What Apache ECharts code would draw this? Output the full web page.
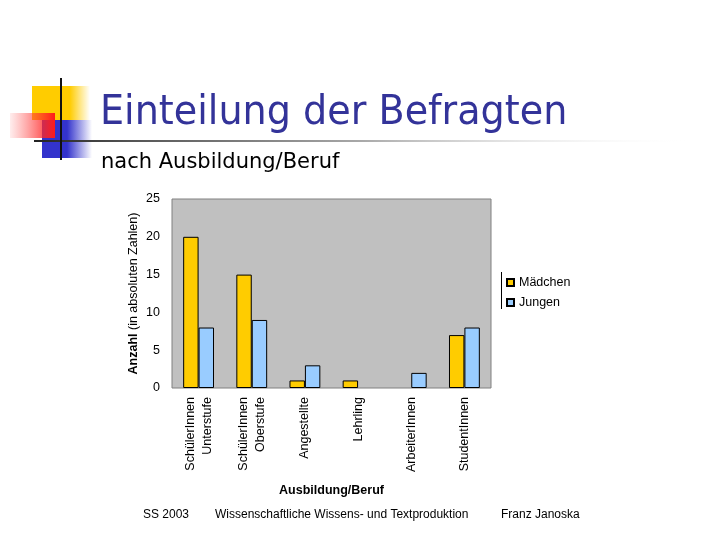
<!DOCTYPE html>
<html>
<head>
<meta charset="utf-8">
<script src="https://cdn.jsdelivr.net/npm/echarts@6/dist/echarts.min.js"></script>
<style>html,body{margin:0;padding:0;background:#fff;}#c{width:720px;height:540px;}</style>
</head>
<body>
<div id="c"></div>
<script>
const categories = ['SchülerInnen\nUnterstufe', 'SchülerInnen\nOberstufe', 'Angestellte', 'Lehrling', 'ArbeiterInnen', 'StudentInnen'];
const maedchen = [20, 15, 1, 1, 0, 7];
const jungen = [8, 9, 3, 0, 2, 8];
const yTicks = { min: 0, max: 25, interval: 5 };

const noZero = arr => arr.map(v => (v === 0 ? null : v));
const chart = echarts.init(document.getElementById('c'));
const F = 'Liberation Sans, Arial, sans-serif';
const T = 'DejaVu Sans, Tahoma, sans-serif';
const FS = 12.5;
chart.setOption({
  animation: false,
  backgroundColor: '#fff',
  grid: { left: 172, right: 229, top: 199, bottom: 152, show: true, backgroundColor: '#c0c0c0', borderColor: '#808080', borderWidth: 1 },
  legend: {
    orient: 'vertical', left: 506, top: 276, padding: 0, itemWidth: 7, itemHeight: 7, itemGap: 7, icon: 'rect',
    textStyle: { fontFamily: F, fontSize: FS, color: '#000' },
    data: ['Mädchen', 'Jungen']
  },
  xAxis: {
    type: 'category', data: categories,
    axisLine: { show: false }, axisTick: { show: false },
    axisLabel: { rotate: 90, margin: 9, fontFamily: F, fontSize: FS, color: '#000', lineHeight: 17, interval: 0 },
    name: 'Ausbildung/Beruf', nameLocation: 'middle', nameGap: 96,
    nameTextStyle: { fontFamily: F, fontSize: FS, fontWeight: 'bold', color: '#000' }
  },
  yAxis: {
    type: 'value', min: yTicks.min, max: yTicks.max, interval: yTicks.interval,
    splitLine: { show: false }, axisLine: { show: false }, axisTick: { show: false },
    axisLabel: { margin: 12, fontFamily: F, fontSize: FS, color: '#000' },
    name: '{b|Anzahl} (in absoluten Zahlen)', nameLocation: 'middle', nameGap: 32,
    nameTextStyle: { fontFamily: F, fontSize: FS, color: '#000', rich: { b: { fontWeight: 'bold', fontFamily: F, fontSize: FS } } }
  },
  series: [
    { name: 'Mädchen', type: 'bar', data: noZero(maedchen), barGap: '0%', barCategoryGap: '42%',
      itemStyle: { color: '#ffcc00', borderColor: '#000', borderWidth: 1 } },
    { name: 'Jungen', type: 'bar', data: noZero(jungen),
      itemStyle: { color: '#99ccff', borderColor: '#000', borderWidth: 1 } }
  ],
  graphic: [
    { type: 'rect', shape: { x: 32, y: 86, width: 58, height: 34 }, style: { fill: new echarts.graphic.LinearGradient(0, 0, 1, 0, [{ offset: 0, color: '#ffcc00' }, { offset: 0.65, color: '#ffcc00' }, { offset: 1, color: 'rgba(255,204,0,0)' }]) }, z: 1 },
    { type: 'rect', shape: { x: 42, y: 120, width: 50, height: 38 }, style: { fill: new echarts.graphic.LinearGradient(0, 0, 1, 0, [{ offset: 0, color: '#3333cc' }, { offset: 0.5, color: '#3333cc' }, { offset: 1, color: 'rgba(51,51,204,0)' }]) }, z: 1 },
    { type: 'rect', shape: { x: 10, y: 113, width: 45, height: 25 }, style: { fill: new echarts.graphic.LinearGradient(0, 0, 1, 0, [{ offset: 0, color: 'rgba(255,80,80,0.1)' }, { offset: 1, color: '#ff1a1a' }]) }, z: 2 },
    { type: 'rect', shape: { x: 34, y: 140, width: 660, height: 2 }, style: { fill: new echarts.graphic.LinearGradient(0, 0, 1, 0, [{ offset: 0, color: '#222' }, { offset: 0.15, color: '#555' }, { offset: 0.5, color: '#aaa' }, { offset: 1, color: 'rgba(255,255,255,0)' }]) }, z: 3 },
    { type: 'rect', shape: { x: 60, y: 78, width: 2, height: 82 }, style: { fill: '#111' }, z: 3 },
    { type: 'text', x: 100, y: 94, scaleX: 0.953, style: { text: 'Einteilung der Befragten', font: '40px ' + T, fill: '#333399', textShadowColor: '#9a9a9a', textShadowOffsetX: 2, textShadowOffsetY: 2 }, z: 5 },
    { type: 'text', left: 101, top: 152, style: { text: 'nach Ausbildung/Beruf', font: '21px ' + T, fill: '#000' }, z: 5 },
    { type: 'rect', shape: { x: 501, y: 272, width: 1, height: 37 }, style: { fill: '#000' }, z: 5 },
    { type: 'text', left: 143, top: 509, style: { text: 'SS 2003', font: '12px ' + F, fill: '#000' } },
    { type: 'text', left: 215, top: 509, style: { text: 'Wissenschaftliche Wissens- und Textproduktion', font: '12px ' + F, fill: '#000' } },
    { type: 'text', left: 501, top: 509, style: { text: 'Franz Janoska', font: '12px ' + F, fill: '#000' } }
  ]
});
</script>
</body>
</html>
